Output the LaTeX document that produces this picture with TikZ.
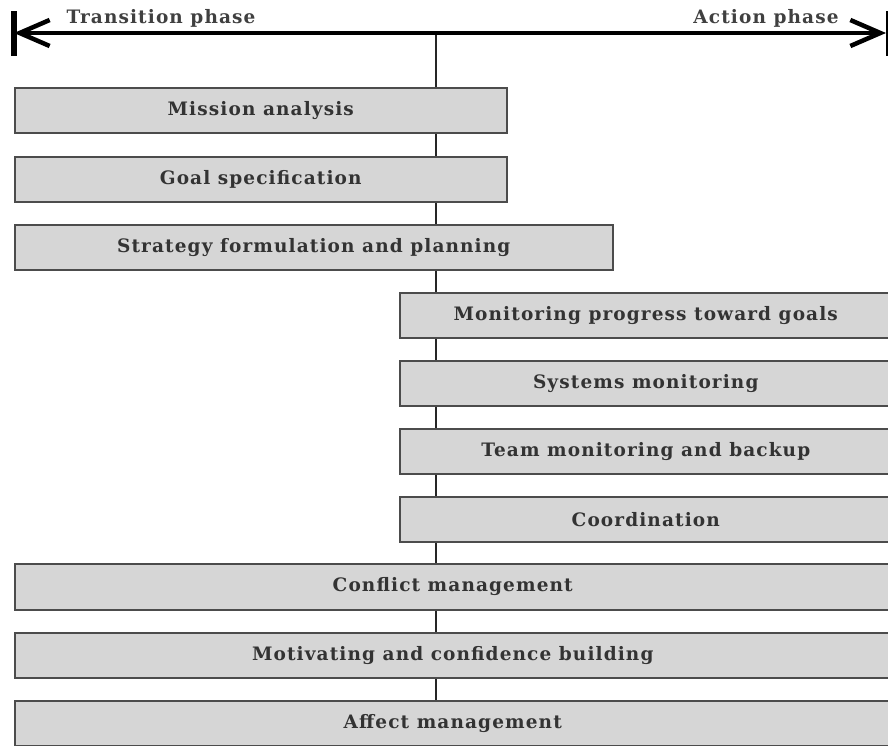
\documentclass[tikz,border=0pt]{standalone}
\usepackage{fontspec}
\setmainfont{DejaVu Serif}
\newfontfamily\slab[LetterSpace=6]{DejaVu Serif}
\usetikzlibrary{arrows.meta}
\begin{document}
\begin{tikzpicture}[x=1pt,y=-1pt,
  box/.style={draw=black!70, line width=1.5pt, fill=black!16, anchor=north west,
    inner sep=0pt, font=\slab\bfseries\fontsize{18.5}{22}\selectfont, text=black!80},
  phase/.style={font=\slab\bfseries\fontsize{18.5}{22}\selectfont, text=black!75},
  axis/.style={line width=4.5pt, black},
  barbtip/.tip={Straight Barb[length=30pt,width=26pt,line width=4.5pt]},
  spine/.style={line width=2.5pt, black!85}]
\useasboundingbox (0,0) rectangle (888,745);
\clip (0,0) rectangle (888,745);
% axis end points
\coordinate (L) at (14,33);
\coordinate (R) at (886,33);
\coordinate (T) at (436,33);
\coordinate (B) at (436,702);
\draw[spine] (T) -- (B);
\draw[axis, {barbtip}-{barbtip}] (L) -- (R);
\draw[line width=5.5pt] (14,11) -- (14,56);
\draw[line width=3pt] (887,11) -- (887,56);
\node[phase] (tp) at (161,18) {Transition phase};
\node[phase] (ap) at (766,18) {Action phase};
% boxes
\node[box, minimum width=492pt, minimum height=45pt] (b1) at (14,87) {Mission analysis};
\node[box, minimum width=492pt, minimum height=45pt] (b2) at (14,156) {Goal specification};
\node[box, minimum width=598pt, minimum height=45pt] (b3) at (14,224) {Strategy formulation and planning};
\node[box, minimum width=492pt, minimum height=45pt] (b4) at (399,292) {Monitoring progress toward goals};
\node[box, minimum width=492pt, minimum height=45pt] (b5) at (399,360) {Systems monitoring};
\node[box, minimum width=492pt, minimum height=45pt] (b6) at (399,428) {Team monitoring and backup};
\node[box, minimum width=492pt, minimum height=45pt] (b7) at (399,496) {Coordination};
\node[box, minimum width=876pt, minimum height=46pt] (b8) at (14,563) {Conflict management};
\node[box, minimum width=876pt, minimum height=45pt] (b9) at (14,632) {Motivating and confidence building};
\node[box, minimum width=876pt, minimum height=45pt] (b10) at (14,700) {Affect management};
\end{tikzpicture}
\end{document}
